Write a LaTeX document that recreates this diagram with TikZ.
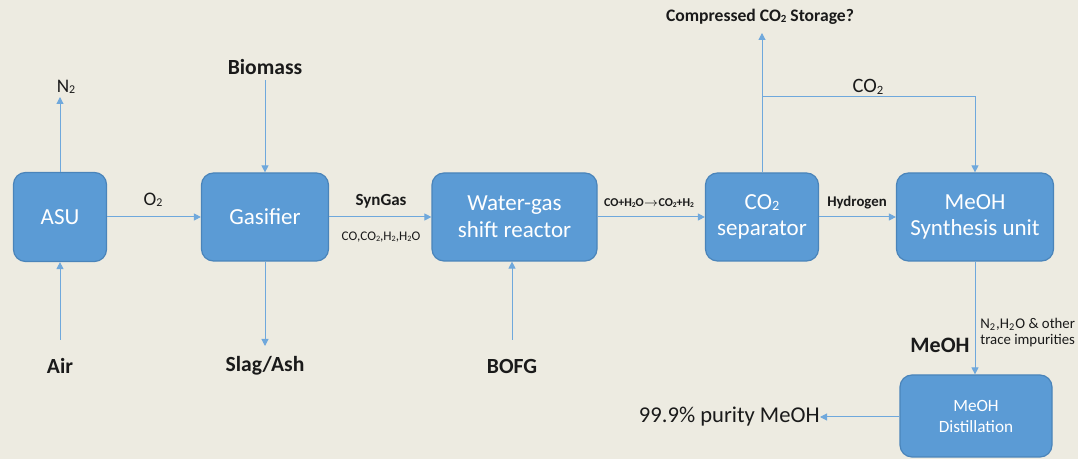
\documentclass[tikz,border=0pt]{standalone}
\usepackage{fontspec}
\setmainfont{Carlito}
\usepackage{graphicx}
\usepackage{tikz}
\usetikzlibrary{arrows.meta}
\definecolor{bgpaper}{HTML}{EDEBE1}
\definecolor{bblue}{HTML}{5B9BD5}
\definecolor{bline}{HTML}{4A84BA}
\definecolor{fblue}{HTML}{6FA8DC}
\definecolor{ink}{HTML}{1A1A1A}
\newcommand{\fs}[1]{\fontsize{#1}{#1}\selectfont}
\newcommand{\fsl}[2]{\fontsize{#1}{#2}\selectfont}
\newcommand{\dn}[1]{\raisebox{-0.15ex}{\scalebox{0.62}{#1}}}

\begin{document}
\begin{tikzpicture}[x=0.5pt,y=-0.5pt,
  unit/.style={draw=bline, fill=bblue, rounded corners=6pt, line width=0.6pt,
    text=white, align=center, font=\fsl{11.5}{13.3}},
  flow/.style={draw=fblue, line width=0.5pt, -{Triangle[length=3.5pt,width=3.5pt]}},
  feed/.style={text=ink, inner sep=0pt, font=\bfseries\fs{10.8}},
  gasl/.style={text=ink, inner sep=0pt, font=\fs{9.6}},
  tag/.style={text=ink, inner sep=0pt, font=\bfseries\fs{7.4}},
  note/.style={text=ink, inner sep=0pt, font=\fsl{7.4}{8}, align=left}]
\fill[bgpaper] (0,0) rectangle (1078,459);
\useasboundingbox (0,0) rectangle (1078,459);

% process units
\node[unit, minimum width=46.5pt, minimum height=44.5pt] (asu) at (60,217) {ASU};
\node[unit, minimum width=63.5pt, minimum height=44pt] (gasf) at (265,217) {Gasifier};
\node[unit, minimum width=82.5pt, minimum height=44pt] (wgs) at (514.5,217) {Water-gas\\shift reactor};
\node[unit, minimum width=56.5pt, minimum height=44pt] (sep) at (762,217) {CO\dn{2}\\separator};
\node[unit, minimum width=78.5pt, minimum height=44pt] (syn) at (975,217) {MeOH\\Synthesis unit};
\node[unit, minimum width=76pt, minimum height=41pt, font=\fsl{8.6}{10.5}] (dist) at (976,416) {MeOH\\Distillation};

% streams in and out
\node[gasl] (n2) at (66,87) {N\dn{2}};
\node[feed] (air) at (60,366) {Air};
\node[gasl] (o2) at (153,200) {O\dn{2}};
\node[feed] (bio) at (265,67) {Biomass};
\node[feed] (slag) at (265,366) {Slag/Ash};
\node[tag, font=\bfseries\fs{8.5}] (syng) at (381,201) {SynGas};
\node[note, font=\fs{6.6}] (sgmix) at (381,237) {CO,CO\dn{2},H\dn{2},H\dn{2}O};
\node[feed] (bofg) at (512,366) {BOFG};
\node[tag, font=\bfseries\fs{6}] (shift) at (649,203) {CO+H\dn{2}O$\rightarrow$CO\dn{2}+H\dn{2}};
\node[tag] (hyd) at (857,203) {Hydrogen};
\node[tag, font=\bfseries\fs{8.8}] (store) at (760,17) {Compressed CO\dn{2} Storage?};
\node[gasl, font=\fs{10.2}] (co2) at (868,87) {CO\dn{2}};
\node[feed, font=\bfseries\fs{11}] (meoh) at (940,345) {MeOH};
\node[note, anchor=west] (trace) at (980,333) {N\textsubscript{2},H\textsubscript{2}O \& other\\trace impurities};
\node[text=ink, inner sep=0pt, font=\fs{11.3}, anchor=east] (pure) at (820,417) {99.9\% purity MeOH};

\coordinate (n2end) at (60,97);
\coordinate (airend) at (60,340);
\coordinate (bioend) at (265,80);
\coordinate (slagend) at (265,346);
\coordinate (bofgend) at (512,340);
\coordinate (storeend) at (762,33);
\coordinate (split) at (762,97);

% connectors
\draw[flow] (asu) -- (n2end);
\draw[flow] (airend) -- (asu);
\draw[flow] (asu) -- (gasf);
\draw[flow] (bioend) -- (gasf);
\draw[flow] (gasf) -- (slagend);
\draw[flow] (gasf) -- (wgs);
\draw[flow] (bofgend) -- (bofgend |- wgs.south);
\draw[flow] (wgs) -- (sep);
\draw[flow] (sep) -- (syn);
\draw[flow] (sep) -- (storeend);
\draw[flow] (split) -| (syn);
\draw[flow] (syn) -- (syn.south |- dist.north);
\draw[flow] (dist.west |- pure.east) -- (pure.east);
\end{tikzpicture}
\end{document}
